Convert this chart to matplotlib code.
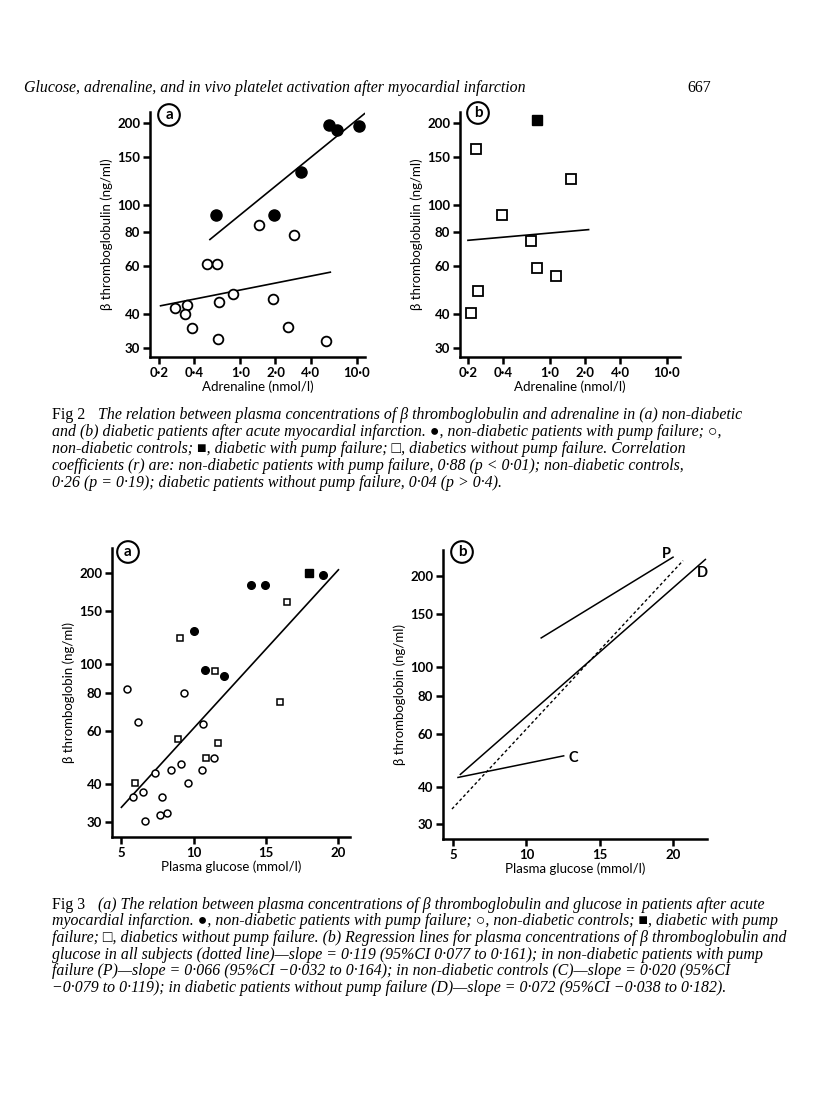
import matplotlib
matplotlib.use("Agg")
import matplotlib.pyplot as plt
from matplotlib.ticker import FixedLocator, FixedFormatter, NullLocator

# ---------------- data ----------------
# Fig 2a: beta thromboglobulin vs adrenaline, non-diabetic
f2a_pump_adr = [0.62, 1.95, 3.28, 5.71, 6.78, 10.3]
f2a_pump_btg = [92, 92, 132, 197, 188, 195]
f2a_ctrl_adr = [0.274, 0.346, 0.335, 0.382, 0.514, 0.626, 0.647, 0.661, 0.859,
                1.455, 1.92, 2.55, 2.88, 5.42]
f2a_ctrl_btg = [42.0, 43.1, 39.9, 35.5, 60.9, 60.9, 32.4, 44.3, 47.3,
                84.3, 45.5, 35.7, 78.0, 31.9]
f2a_fit_pump_x = [0.548, 11.6]
f2a_fit_pump_y = [74.8, 216]
f2a_fit_ctrl_x = [0.207, 5.9]
f2a_fit_ctrl_y = [42.8, 56.8]

# Fig 2b: diabetic
f2b_pump_adr = [0.784]
f2b_pump_btg = [204]
f2b_nopump_adr = [0.233, 0.244, 0.213, 0.39, 0.687, 0.778, 1.122, 1.518]
f2b_nopump_btg = [161, 48.3, 40.3, 92.1, 74.1, 58.7, 54.8, 124.7]
f2b_fit_x = [0.2, 2.15]
f2b_fit_y = [74.3, 81.3]

adr_ticks = [0.2, 0.4, 1.0, 2.0, 4.0, 10.0]
adr_ticklabels = ["0·2", "0·4", "1·0", "2·0", "4·0", "10·0"]
btg_ticks = [30, 40, 60, 80, 100, 150, 200]
btg_ticklabels = ["30", "40", "60", "80", "100", "150", "200"]

# Fig 3a: beta thromboglobulin vs plasma glucose
f3a_pump_glu = [13.95, 14.9, 18.9, 10.03, 10.75, 12.1]
f3a_pump_btg = [183, 183, 197.5, 128.2, 95.3, 91]
f3a_dpump_glu = [17.95]
f3a_dpump_btg = [200]
f3a_dnopump_glu = [16.45, 9.02, 11.49, 15.96, 8.88, 11.67, 10.84, 5.92]
f3a_dnopump_btg = [160.3, 122.2, 94.5, 74.8, 56.7, 54.7, 48.8, 40.4]
f3a_ctrl_glu = [5.39, 6.18, 9.34, 10.61, 9.11, 8.44, 7.33, 10.54, 11.42, 9.57,
                6.52, 5.81, 7.82, 7.65, 8.18, 6.66]
f3a_ctrl_btg = [82.8, 64.2, 80.1, 63.4, 46.8, 44.7, 43.7, 44.7, 49, 40.3,
                37.8, 36.4, 36.4, 31.7, 32.1, 30.2]
f3a_fit_x = [5, 20]
f3a_fit_y = [33.6, 205]

# Fig 3b: regression lines
f3b_all_x = [4.93, 20.65]
f3b_all_y = [33.7, 225]
f3b_P_x = [11.0, 19.97]
f3b_P_y = [124.6, 231]
f3b_D_x = [5.5, 22.17]
f3b_D_y = [43.9, 227]
f3b_C_x = [5.34, 12.53]
f3b_C_y = [42.9, 50.6]

glu_ticks = [5, 10, 15, 20]
glu_ticklabels = ["5", "10", "15", "20"]

# ---------------- figure ----------------
W, H = 816, 1093
fig = plt.figure(figsize=(W / 100, H / 100), dpi=100)
fig.patch.set_facecolor("white")

TICKFONT = dict(family=["Lato", "DejaVu Sans"], weight="bold", size=9.5)
LABFONT = dict(family=["Lato", "DejaVu Sans"], size=9.5)
SERIF = ["Liberation Serif", "DejaVu Serif"]


def px_axes(left, top, right, bottom):
    return fig.add_axes([left / W, 1 - bottom / H, (right - left) / W, (bottom - top) / H])


def style(ax, xlog, xt, xtl, yt, ytl, xlim, ylim, xlabel, ylabel):
    if xlog:
        ax.set_xscale("log")
    ax.set_yscale("log")
    ax.set_xlim(*xlim)
    ax.set_ylim(*ylim)
    ax.xaxis.set_major_locator(FixedLocator(xt))
    ax.xaxis.set_major_formatter(FixedFormatter(xtl))
    ax.yaxis.set_major_locator(FixedLocator(yt))
    ax.yaxis.set_major_formatter(FixedFormatter(ytl))
    ax.xaxis.set_minor_locator(NullLocator())
    ax.yaxis.set_minor_locator(NullLocator())
    for s in ("top", "right"):
        ax.spines[s].set_visible(False)
    for s in ("left", "bottom"):
        ax.spines[s].set_linewidth(1.8)
    ax.tick_params(direction="out", length=5, width=1.8, pad=2)
    for lab in ax.get_xticklabels() + ax.get_yticklabels():
        lab.set_fontfamily(TICKFONT["family"])
        lab.set_fontweight("bold")
        lab.set_fontsize(TICKFONT["size"])
    ax.set_xlabel(xlabel, labelpad=1, **LABFONT)
    ax.set_ylabel(ylabel, labelpad=3, **LABFONT)
    ax.patch.set_alpha(0)


def circ_label(xp, yp, letter):
    fig.text(xp / W, 1 - yp / H, letter, ha="center", va="center",
             fontsize=11, fontweight="bold", family=["Lato", "DejaVu Sans"],
             bbox=dict(boxstyle="circle,pad=0.25", fc="white", ec="black", lw=1.5))


open_kw = dict(linestyle="none", mfc="white", mec="black", color="black")
fill_kw = dict(linestyle="none", mfc="black", mec="black", color="black")

# ---- Fig 2a ----
ax = px_axes(150, 112, 365, 357)
style(ax, True, adr_ticks, adr_ticklabels, btg_ticks, btg_ticklabels,
      (0.168, 11.7), (27.8, 219), "Adrenaline (nmol/l)", "β thromboglobulin (ng/ml)")
ax.plot(f2a_fit_pump_x, f2a_fit_pump_y, color="black", lw=1.2)
ax.plot(f2a_fit_ctrl_x, f2a_fit_ctrl_y, color="black", lw=1.2)
ax.plot(f2a_ctrl_adr, f2a_ctrl_btg, marker="o", ms=7, mew=1.3, **open_kw)
ax.plot(f2a_pump_adr, f2a_pump_btg, marker="o", ms=8, **fill_kw)
circ_label(169, 115, "a")

# ---- Fig 2b ----
ax = px_axes(460, 112, 680, 357)
style(ax, True, adr_ticks, adr_ticklabels, btg_ticks, btg_ticklabels,
      (0.171, 13.0), (27.8, 219), "Adrenaline (nmol/l)", "β thromboglobulin (ng/ml)")
ax.plot(f2b_fit_x, f2b_fit_y, color="black", lw=1.2)
ax.plot(f2b_nopump_adr, f2b_nopump_btg, marker="s", ms=7, mew=1.3, **open_kw)
ax.plot(f2b_pump_adr, f2b_pump_btg, marker="s", ms=7, **fill_kw)
circ_label(478, 113, "b")

# ---- Fig 3a ----
ax = px_axes(112, 548, 350, 837)
style(ax, False, glu_ticks, glu_ticklabels, btg_ticks, btg_ticklabels,
      (4.35, 20.8), (26.8, 242), "Plasma glucose (mmol/l)", "β thromboglobin (ng/ml)")
ax.plot(f3a_fit_x, f3a_fit_y, color="black", lw=1.2)
ax.plot(f3a_ctrl_glu, f3a_ctrl_btg, marker="o", ms=5, mew=1.1, **open_kw)
ax.plot(f3a_dnopump_glu, f3a_dnopump_btg, marker="s", ms=5, mew=1.1, **open_kw)
ax.plot(f3a_pump_glu, f3a_pump_btg, marker="o", ms=5.5, **fill_kw)
ax.plot(f3a_dpump_glu, f3a_dpump_btg, marker="s", ms=5.5, **fill_kw)
circ_label(128, 552, "a")

# ---- Fig 3b ----
ax = px_axes(443, 550, 707, 839)
style(ax, False, glu_ticks, glu_ticklabels, btg_ticks, btg_ticklabels,
      (4.32, 22.28), (26.8, 244), "Plasma glucose (mmol/l)", "β thromboglobin (ng/ml)")
ax.plot(f3b_all_x, f3b_all_y, color="black", lw=1.0, linestyle=(0, (2.2, 1.8)))
ax.plot(f3b_P_x, f3b_P_y, color="black", lw=1.1)
ax.plot(f3b_D_x, f3b_D_y, color="black", lw=1.1)
ax.plot(f3b_C_x, f3b_C_y, color="black", lw=1.1)
for txt, xv, yv in (("P", 19.5, 237), ("D", 21.98, 205), ("C", 13.16, 49.9)):
    ax.text(xv, yv, txt, ha="center", va="center", fontsize=10.5, fontweight="bold",
            family=["Lato", "DejaVu Sans"])
circ_label(462, 552, "b")

# ---------------- page text ----------------
fig.text(24 / W, 1 - 88 / H,
         "Glucose, adrenaline, and in vivo platelet activation after myocardial infarction",
         ha="left", va="center", style="italic", fontsize=11.4, family=SERIF)
fig.text(711 / W, 1 - 88 / H, "667", ha="right", va="center", fontsize=11.5, family=SERIF)

CAP = dict(ha="left", va="center", style="italic", fontsize=11.4, family=SERIF)
FIGL = dict(ha="left", va="center", fontsize=11.5, family=SERIF)

cap2 = [
    "The relation between plasma concentrations of β thromboglobulin and adrenaline in (a) non-diabetic",
    "and (b) diabetic patients after acute myocardial infarction. ●, non-diabetic patients with pump failure; ○,",
    "non-diabetic controls; ■, diabetic with pump failure; □, diabetics without pump failure. Correlation",
    "coefficients (r) are: non-diabetic patients with pump failure, 0·88 (p < 0·01); non-diabetic controls,",
    "0·26 (p = 0·19); diabetic patients without pump failure, 0·04 (p > 0·4).",
]
ys2 = [415, 432, 449, 466, 483]
fig.text(52 / W, 1 - ys2[0] / H, "Fig 2", **FIGL)
for i, (line, yp) in enumerate(zip(cap2, ys2)):
    xp = 98 if i == 0 else 52
    fig.text(xp / W, 1 - yp / H, line, **CAP)

cap3 = [
    "(a) The relation between plasma concentrations of β thromboglobulin and glucose in patients after acute",
    "myocardial infarction. ●, non-diabetic patients with pump failure; ○, non-diabetic controls; ■, diabetic with pump",
    "failure; □, diabetics without pump failure. (b) Regression lines for plasma concentrations of β thromboglobulin and",
    "glucose in all subjects (dotted line)—slope = 0·119 (95%CI 0·077 to 0·161); in non-diabetic patients with pump",
    "failure (P)—slope = 0·066 (95%CI −0·032 to 0·164); in non-diabetic controls (C)—slope = 0·020 (95%CI",
    "−0·079 to 0·119); in diabetic patients without pump failure (D)—slope = 0·072 (95%CI −0·038 to 0·182).",
]
ys3 = [905, 921, 938, 955, 971, 988]
fig.text(52 / W, 1 - ys3[0] / H, "Fig 3", **FIGL)
for i, (line, yp) in enumerate(zip(cap3, ys3)):
    xp = 98 if i == 0 else 52
    fig.text(xp / W, 1 - yp / H, line, **CAP)

fig.savefig("out.png", dpi=100, facecolor="white")
